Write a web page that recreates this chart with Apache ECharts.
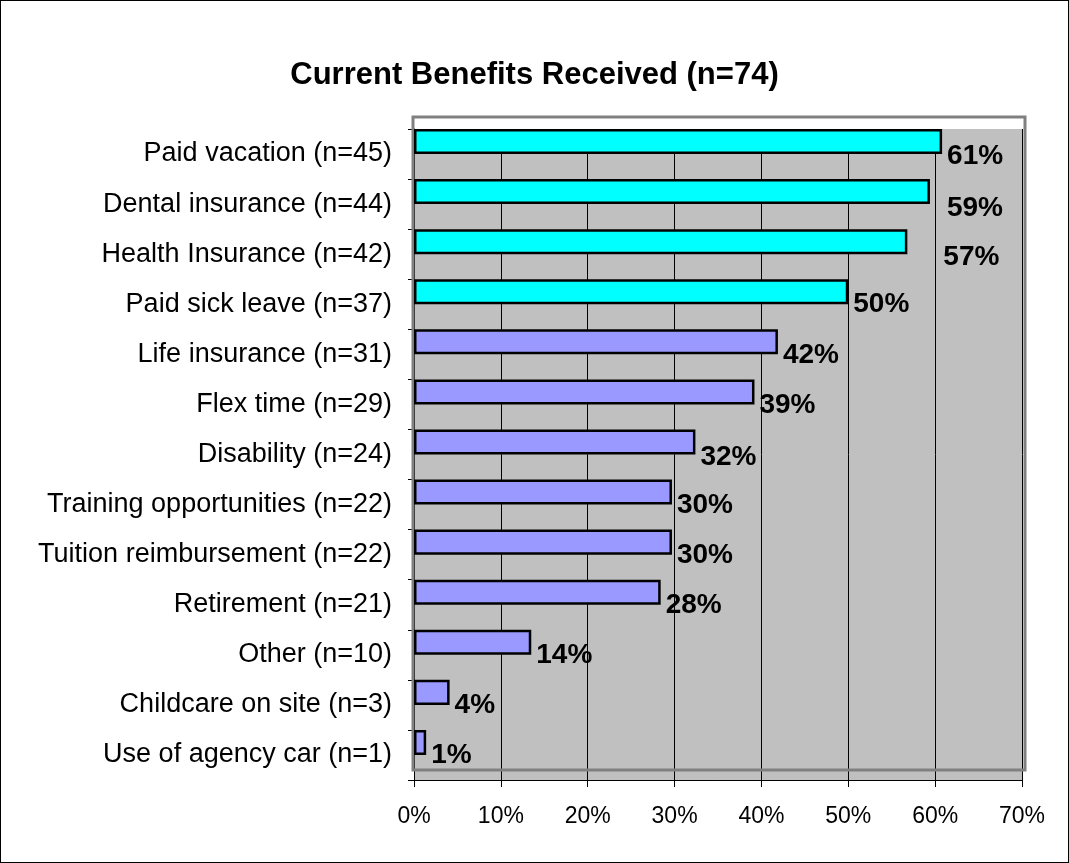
<!DOCTYPE html>
<html>
<head>
<meta charset="utf-8">
<script src="https://cdn.jsdelivr.net/npm/echarts@6/dist/echarts.min.js"></script>
<style>
  html, body { margin: 0; padding: 0; background: #fff; }
  #chart { width: 1069px; height: 863px; box-sizing: border-box; border: 1px solid #000; }
</style>
</head>
<body>
<div id="chart"></div>
<script>
// categories, top to bottom
var categories = [
  'Paid vacation (n=45)',
  'Dental insurance (n=44)',
  'Health Insurance (n=42)',
  'Paid sick leave (n=37)',
  'Life insurance (n=31)',
  'Flex time (n=29)',
  'Disability (n=24)',
  'Training opportunities (n=22)',
  'Tuition reimbursement (n=22)',
  'Retirement (n=21)',
  'Other (n=10)',
  'Childcare on site (n=3)',
  'Use of agency car (n=1)'
];
// percent receiving each benefit
var percents = [60.8, 59.4, 56.8, 50.0, 41.9, 39.2, 32.4, 29.7, 29.7, 28.4, 13.5, 4.1, 1.4];
// first group (health/leave) drawn in cyan, rest in lavender
var groups = ['main', 'main', 'main', 'main', 'other', 'other', 'other', 'other', 'other', 'other', 'other', 'other', 'other'];
var xTicks = [0, 10, 20, 30, 40, 50, 60, 70];

var FONT = '"Liberation Sans", Arial, sans-serif';
var groupColor = { main: '#00FFFF', other: '#9999FF' };
// excel pushed a couple of crowded labels further right
var labelNudge = { 0: [0, 15], 1: [12, 17], 2: [31, 16], 6: [0, 15] };

var barData = [];
for (var i = 0; i < percents.length; i++) {
  var item = { value: percents[i], itemStyle: { color: groupColor[groups[i]] } };
  if (labelNudge[i]) item.label = { offset: labelNudge[i] };
  barData.push(item);
}

var chart = echarts.init(document.getElementById('chart'));
var option = {
  animation: false,
  textStyle: { fontFamily: FONT },
  title: {
    text: 'Current Benefits Received (n=74)',
    left: 'center',
    top: 54,
    textStyle: { fontSize: 31, fontWeight: 'bold', color: '#000', fontFamily: FONT }
  },
  grid: {
    left: 413,
    right: 46,
    top: 128,
    bottom: 82,
    show: true,
    backgroundColor: '#C0C0C0',
    borderWidth: 0,
    outerBoundsMode: 'none'
  },
  graphic: [{
    type: 'rect',
    z: 1,
    shape: { x: 412, y: 116, width: 612, height: 653 },
    style: { fill: 'none', stroke: '#808080', lineWidth: 3 }
  }],
  xAxis: {
    type: 'value',
    min: xTicks[0],
    max: xTicks[xTicks.length - 1],
    interval: 10,
    axisLine: { show: true, lineStyle: { color: '#000', width: 1 } },
    axisTick: { show: true, length: 7, lineStyle: { color: '#000' } },
    axisLabel: { formatter: '{value}%', fontSize: 23, color: '#000', margin: 25, fontFamily: FONT },
    splitLine: { show: true, lineStyle: { color: '#000', width: 1 } }
  },
  yAxis: {
    type: 'category',
    inverse: true,
    data: categories,
    axisLine: { show: true, lineStyle: { color: '#000', width: 1 } },
    axisTick: { show: true, length: 6, lineStyle: { color: '#000' } },
    axisLabel: { fontSize: 27, color: '#000', margin: 22, fontFamily: FONT },
    splitLine: { show: false }
  },
  series: [
    {
      type: 'bar',
      data: barData,
      barGap: '0%',
      barCategoryGap: '0%',
      itemStyle: { borderColor: '#000', borderWidth: 2.5 },
      label: {
        show: true,
        position: 'right',
        offset: [0, 13],
        fontSize: 28,
        fontWeight: 'bold',
        color: '#000',
        fontFamily: FONT,
        formatter: function (p) { return Math.round(p.value) + '%'; }
      },
      z: 3
    },
    {
      // empty slot so each bar sits in the upper half of its row
      type: 'bar',
      data: [],
      barGap: '0%',
      barCategoryGap: '0%'
    }
  ]
};
chart.setOption(option);
</script>
</body>
</html>
